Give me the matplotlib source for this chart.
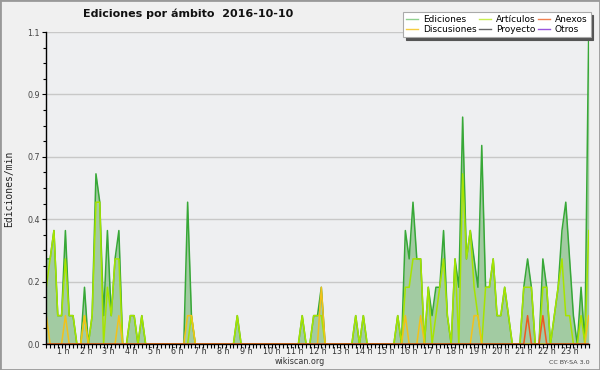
import numpy as np
import matplotlib
matplotlib.use("Agg")
import matplotlib.pyplot as plt
from matplotlib.lines import Line2D
from matplotlib.patches import Rectangle
from matplotlib.ticker import MultipleLocator

# ---- data (10-minute bins, edits per minute) ----
hours = list(range(1, 24))
hour_labels = [f"{h} h" for h in hours]
y_tick_values = [0.0, 0.22, 0.44, 0.66, 0.88, 1.1]
y_tick_labels = ["0.0", "0.2", "0.4", "0.7", "0.9", "1.1"]

ediciones = [
    0.3, 0.3, 0.4, 0.1, 0.1, 0.4,   # 0h
    0.1, 0.1, 0.0, 0.0, 0.2, 0.0,   # 1h
    0.1, 0.6, 0.5, 0.1, 0.4, 0.1,   # 2h
    0.3, 0.4, 0.0, 0.0, 0.1, 0.1,   # 3h
    0.0, 0.1, 0.0, 0.0, 0.0, 0.0,   # 4h
    0.0, 0.0, 0.0, 0.0, 0.0, 0.0,   # 5h
    0.0, 0.5, 0.1, 0.0, 0.0, 0.0,   # 6h
    0.0, 0.0, 0.0, 0.0, 0.0, 0.0,   # 7h
    0.0, 0.0, 0.1, 0.0, 0.0, 0.0,   # 8h
    0.0, 0.0, 0.0, 0.0, 0.0, 0.0,   # 9h
    0.0, 0.0, 0.0, 0.0, 0.0, 0.0,   # 10h
    0.0, 0.1, 0.0, 0.0, 0.1, 0.1,   # 11h
    0.2, 0.0, 0.0, 0.0, 0.0, 0.0,   # 12h
    0.0, 0.0, 0.0, 0.1, 0.0, 0.1,   # 13h
    0.0, 0.0, 0.0, 0.0, 0.0, 0.0,   # 14h
    0.0, 0.0, 0.1, 0.0, 0.4, 0.3,   # 15h
    0.5, 0.3, 0.3, 0.0, 0.2, 0.1,   # 16h
    0.2, 0.2, 0.4, 0.1, 0.0, 0.3,   # 17h
    0.2, 0.8, 0.3, 0.4, 0.3, 0.2,   # 18h
    0.7, 0.2, 0.2, 0.3, 0.1, 0.1,   # 19h
    0.2, 0.1, 0.0, 0.0, 0.0, 0.2,   # 20h
    0.3, 0.2, 0.0, 0.0, 0.3, 0.2,   # 21h
    0.0, 0.1, 0.2, 0.4, 0.5, 0.3,   # 22h
    0.1, 0.0, 0.2, 0.0, 1.1,        # 23h
]

articulos = [
    0.2, 0.3, 0.4, 0.1, 0.1, 0.3,
    0.1, 0.1, 0.0, 0.0, 0.1, 0.0,
    0.1, 0.5, 0.5, 0.0, 0.2, 0.1,
    0.3, 0.3, 0.0, 0.0, 0.1, 0.1,
    0.0, 0.1, 0.0, 0.0, 0.0, 0.0,
    0.0, 0.0, 0.0, 0.0, 0.0, 0.0,
    0.0, 0.0, 0.1, 0.0, 0.0, 0.0,
    0.0, 0.0, 0.0, 0.0, 0.0, 0.0,
    0.0, 0.0, 0.1, 0.0, 0.0, 0.0,
    0.0, 0.0, 0.0, 0.0, 0.0, 0.0,
    0.0, 0.0, 0.0, 0.0, 0.0, 0.0,
    0.0, 0.1, 0.0, 0.0, 0.1, 0.1,
    0.1, 0.0, 0.0, 0.0, 0.0, 0.0,
    0.0, 0.0, 0.0, 0.1, 0.0, 0.1,
    0.0, 0.0, 0.0, 0.0, 0.0, 0.0,
    0.0, 0.0, 0.1, 0.0, 0.2, 0.2,
    0.3, 0.3, 0.3, 0.0, 0.2, 0.0,
    0.1, 0.2, 0.3, 0.1, 0.0, 0.3,
    0.0, 0.6, 0.3, 0.4, 0.2, 0.1,
    0.0, 0.2, 0.2, 0.3, 0.1, 0.1,
    0.2, 0.1, 0.0, 0.0, 0.0, 0.2,
    0.2, 0.2, 0.0, 0.0, 0.2, 0.2,
    0.0, 0.1, 0.2, 0.3, 0.1, 0.1,
    0.0, 0.0, 0.1, 0.0, 0.4,
]

discusiones = [
    0.1, 0.0, 0.0, 0.0, 0.0, 0.1,
    0.0, 0.0, 0.0, 0.0, 0.1, 0.0,
    0.0, 0.0, 0.0, 0.0, 0.0, 0.0,
    0.0, 0.1, 0.0, 0.0, 0.0, 0.0,
    0.0, 0.0, 0.0, 0.0, 0.0, 0.0,
    0.0, 0.0, 0.0, 0.0, 0.0, 0.0,
    0.0, 0.1, 0.1, 0.0, 0.0, 0.0,
    0.0, 0.0, 0.0, 0.0, 0.0, 0.0,
    0.0, 0.0, 0.0, 0.0, 0.0, 0.0,
    0.0, 0.0, 0.0, 0.0, 0.0, 0.0,
    0.0, 0.0, 0.0, 0.0, 0.0, 0.0,
    0.0, 0.0, 0.0, 0.0, 0.0, 0.0,
    0.2, 0.0, 0.0, 0.0, 0.0, 0.0,
    0.0, 0.0, 0.0, 0.0, 0.0, 0.0,
    0.0, 0.0, 0.0, 0.0, 0.0, 0.0,
    0.0, 0.0, 0.0, 0.0, 0.1, 0.0,
    0.0, 0.0, 0.1, 0.0, 0.0, 0.0,
    0.0, 0.0, 0.0, 0.0, 0.0, 0.0,
    0.0, 0.0, 0.0, 0.0, 0.1, 0.1,
    0.0, 0.0, 0.0, 0.0, 0.0, 0.0,
    0.0, 0.0, 0.0, 0.0, 0.0, 0.0,
    0.0, 0.0, 0.0, 0.0, 0.0, 0.0,
    0.0, 0.0, 0.0, 0.0, 0.0, 0.0,
    0.0, 0.0, 0.0, 0.0, 0.1,
]

anexos = [
    0.0, 0.0, 0.0, 0.0, 0.0, 0.0,
    0.0, 0.0, 0.0, 0.0, 0.0, 0.0,
    0.0, 0.0, 0.0, 0.0, 0.0, 0.0,
    0.0, 0.0, 0.0, 0.0, 0.0, 0.0,
    0.0, 0.0, 0.0, 0.0, 0.0, 0.0,
    0.0, 0.0, 0.0, 0.0, 0.0, 0.0,
    0.0, 0.0, 0.0, 0.0, 0.0, 0.0,
    0.0, 0.0, 0.0, 0.0, 0.0, 0.0,
    0.0, 0.0, 0.0, 0.0, 0.0, 0.0,
    0.0, 0.0, 0.0, 0.0, 0.0, 0.0,
    0.0, 0.0, 0.0, 0.0, 0.0, 0.0,
    0.0, 0.0, 0.0, 0.0, 0.0, 0.0,
    0.0, 0.0, 0.0, 0.0, 0.0, 0.0,
    0.0, 0.0, 0.0, 0.0, 0.0, 0.0,
    0.0, 0.0, 0.0, 0.0, 0.0, 0.0,
    0.0, 0.0, 0.0, 0.0, 0.0, 0.0,
    0.0, 0.0, 0.0, 0.0, 0.0, 0.0,
    0.0, 0.0, 0.0, 0.0, 0.0, 0.0,
    0.0, 0.0, 0.0, 0.0, 0.0, 0.0,
    0.0, 0.0, 0.0, 0.0, 0.0, 0.0,
    0.0, 0.0, 0.0, 0.0, 0.0, 0.0,
    0.1, 0.0, 0.0, 0.0, 0.1, 0.0,
    0.0, 0.0, 0.0, 0.0, 0.0, 0.0,
    0.0, 0.0, 0.0, 0.0, 0.0,
]

legend_labels = ["Ediciones", "Discusiones", "Artículos", "Proyecto", "Anexos", "Otros"]
legend_colors = ["#8fd08f", "#f5cc40", "#c8ee50", "#666666", "#f08050", "#9955dd"]

# ---- figure ----
W, H = 600, 370
fig = plt.figure(figsize=(6, 3.7), dpi=100, facecolor="#f0f0f0")
ax = fig.add_axes([46.3 / W, 1 - 344 / H, (588.7 - 46.3) / W, (344 - 32) / H])
ax.set_facecolor("#eeeff1")

x = np.arange(len(ediciones))
ax.fill_between(x, ediciones, 0, color="#a2cba2", lw=0, zorder=2)
ax.plot(x, ediciones, color="#37a837", lw=1.1, zorder=3)
ax.plot(x, articulos, color="#a6e400", lw=1.1, zorder=4)
ax.plot(x, discusiones, color="#f2c21a", lw=1.1, zorder=5)
ax.plot(x, anexos, color="#ee5a20", lw=1.1, zorder=6)

ax.set_xlim(0, len(x) - 1)
ax.set_ylim(0, 1.1)

for s in ["top", "right"]:
    ax.spines[s].set_visible(False)
for s in ["left", "bottom"]:
    ax.spines[s].set_color("black")
    ax.spines[s].set_linewidth(1.0)
    ax.spines[s].set_zorder(10)

ax.set_axisbelow(True)
ax.yaxis.grid(True, which="major", color="#c8c8c8", lw=1.0)

ax.set_yticks(y_tick_values)
ax.set_yticklabels(y_tick_labels)
ax.yaxis.set_minor_locator(MultipleLocator(0.055))
ax.tick_params(axis="y", which="major", length=3.2, width=0.8, labelsize=5.8,
               labelcolor="#444444", pad=1.5)
ax.tick_params(axis="y", which="minor", length=2.4, width=0.8)

ax.set_xticks([6 * h - 3.3 for h in hours])
ax.set_xticklabels(hour_labels)
for lbl in ax.get_xticklabels():
    lbl.set_ha("left")
ax.set_xticks(x, minor=True)
ax.tick_params(axis="x", which="major", length=0, labelsize=5.8,
               labelcolor="#333333", pad=2.5)
ax.tick_params(axis="x", which="minor", length=2.8, width=0.8)

# texts
fig.text(188.5 / W, 1 - 14 / H, "Ediciones por ámbito  2016-10-10",
         ha="center", va="center", fontsize=8, fontweight="bold", color="#111111")
fig.text(9.5 / W, 1 - 188.5 / H, "Ediciones/min", rotation=90, ha="center",
         va="center", fontsize=7, family="DejaVu Sans Mono", color="#222222")
fig.text(300 / W, 1 - 362 / H, "wikiscan.org", ha="center", va="center",
         fontsize=5.8, color="#333333")
fig.text(590 / W, 1 - 362 / H, "CC BY-SA 3.0", ha="right", va="center",
         fontsize=4.6, color="#444444")

handles = [Line2D([], [], color=c, lw=1.0) for c in legend_colors]
leg = fig.legend(handles, legend_labels, loc="upper left",
                 bbox_to_anchor=(403 / W, 1 - 12 / H), ncol=3, fontsize=6.5,
                 frameon=True, fancybox=False,
                 shadow={"color": "#555555", "alpha": 1.0},
                 borderpad=0.35, labelspacing=0.1, handlelength=1.3,
                 handletextpad=0.55, columnspacing=0.3, borderaxespad=0)
leg.get_frame().set_edgecolor("#aaaaaa")
leg.get_frame().set_linewidth(0.8)
leg.get_frame().set_facecolor("white")

fig.patches.append(Rectangle((0, 0), 1, 1, transform=fig.transFigure, fill=False,
                             edgecolor="#999999", lw=2, zorder=20))

fig.savefig("out.png", dpi=100, facecolor=fig.get_facecolor())
